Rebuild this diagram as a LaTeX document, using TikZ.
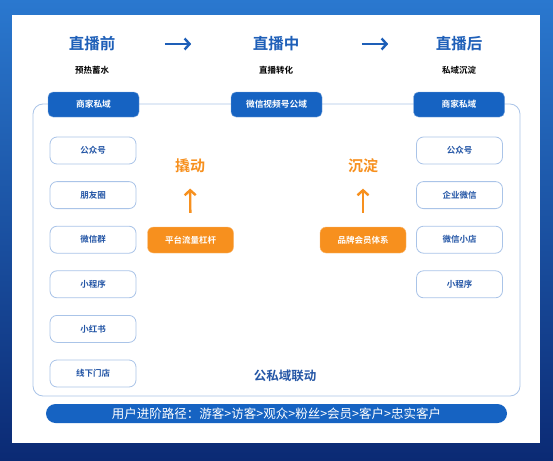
\documentclass[tikz,border=0pt]{standalone}
\usepackage{fontspec}
\setmainfont{Noto Sans CJK SC}[BoldFont=Noto Sans CJK SC Bold]
\usetikzlibrary{arrows.meta}
\definecolor{hdblue}{HTML}{1663C2}
\definecolor{ttblue}{HTML}{1E5FB8}
\definecolor{lineblue}{HTML}{AAC4E8}
\definecolor{txtblue}{HTML}{2456A6}
\definecolor{orng}{HTML}{F7901E}
\definecolor{bgtop}{HTML}{2A78CF}
\definecolor{bgbot}{HTML}{0B2A74}

\begin{document}
\begin{tikzpicture}[x=1pt, y=-1pt,
  title/.style={text=ttblue, font=\bfseries\fontsize{15.5}{15.5}\selectfont},
  sub/.style={font=\bfseries\fontsize{8.5}{8.5}\selectfont},
  head/.style={fill=hdblue, draw=hdblue!55!white, text=white, rounded corners=5pt,
    minimum width=91pt, minimum height=25pt, inner sep=0pt, font=\bfseries\fontsize{8.7}{8.7}\selectfont},
  chan/.style={fill=white, draw=lineblue, line width=0.8pt, text=txtblue, rounded corners=7pt,
    minimum width=86pt, minimum height=27pt, inner sep=0pt, font=\bfseries\fontsize{8.5}{8.5}\selectfont},
  lever/.style={fill=orng, draw=orng!60!white, text=white, rounded corners=6pt,
    minimum width=86pt, minimum height=26pt, inner sep=0pt, font=\bfseries\fontsize{8.5}{8.5}\selectfont},
  verb/.style={text=orng, font=\bfseries\fontsize{15}{15}\selectfont},
  stagearrow/.style={ttblue, line width=2.4pt, -{Straight Barb[length=5pt,width=11pt]}},
  uparrow/.style={orng, line width=2.4pt, -{Straight Barb[length=5pt,width=11pt]}}]
\useasboundingbox (0,0) rectangle (553,460);
% background and panel
\shade[top color=bgtop, bottom color=bgbot] (0,0) rectangle (553,460);
\fill[white] (12,15) rectangle (540,443);
\draw[lineblue, line width=0.8pt, rounded corners=10pt] (33,104) rectangle (520,396);
% stages
\node[title] (pre) at (92,44){直播前};
\node[title] (mid) at (276,44){直播中};
\node[title] (post) at (459,44){直播后};
\node[sub] (pres) at (92,70){预热蓄水};
\node[sub] (mids) at (276,70){直播转化};
\node[sub] (posts) at (459,70){私域沉淀};
\draw[stagearrow, shorten <=46pt, shorten >=58pt] (pre) -- (mid);
\draw[stagearrow, shorten <=59pt, shorten >=44pt] (mid) -- (post);
% domain headers
\node[head] (hl) at (93.5,104.5){商家私域};
\node[head] (hm) at (276.5,104.5){微信视频号公域};
\node[head] (hr) at (459,104.5){商家私域};
% channels
\foreach \t [count=\i] in {公众号,朋友圈,微信群,小程序,小红书,线下门店}
  \node[chan] (l\i) at (93,{150.5+44.6*(\i-1)}){\t};
\foreach \t [count=\i] in {公众号,企业微信,微信小店,小程序}
  \node[chan] (r\i) at (459.5,{150.5+44.6*(\i-1)}){\t};
% levers
\node[lever] (lev) at (190.5,240){平台流量杠杆};
\node[lever] (brand) at (363,240){品牌会员体系};
\node[verb] (pry) at (190,166){撬动};
\node[verb] (settle) at (363,166){沉淀};
\draw[uparrow, shorten <=14pt, shorten >=12pt] (lev) -- (pry);
\draw[uparrow, shorten <=14pt, shorten >=12pt] (brand) -- (settle);
\node[text=txtblue, font=\bfseries\fontsize{12.5}{12.5}\selectfont] (link) at (285,376){公私域联动};
% user path bar
\node[fill=hdblue, rounded corners=9.5pt, minimum width=461pt, minimum height=19pt, inner sep=0pt,
  text=white, font=\fontsize{12.5}{12.5}\selectfont] (path) at (276.5,413.5)
  {用户进阶路径：游客>访客>观众>粉丝>会员>客户>忠实客户};
\end{tikzpicture}
\end{document}
